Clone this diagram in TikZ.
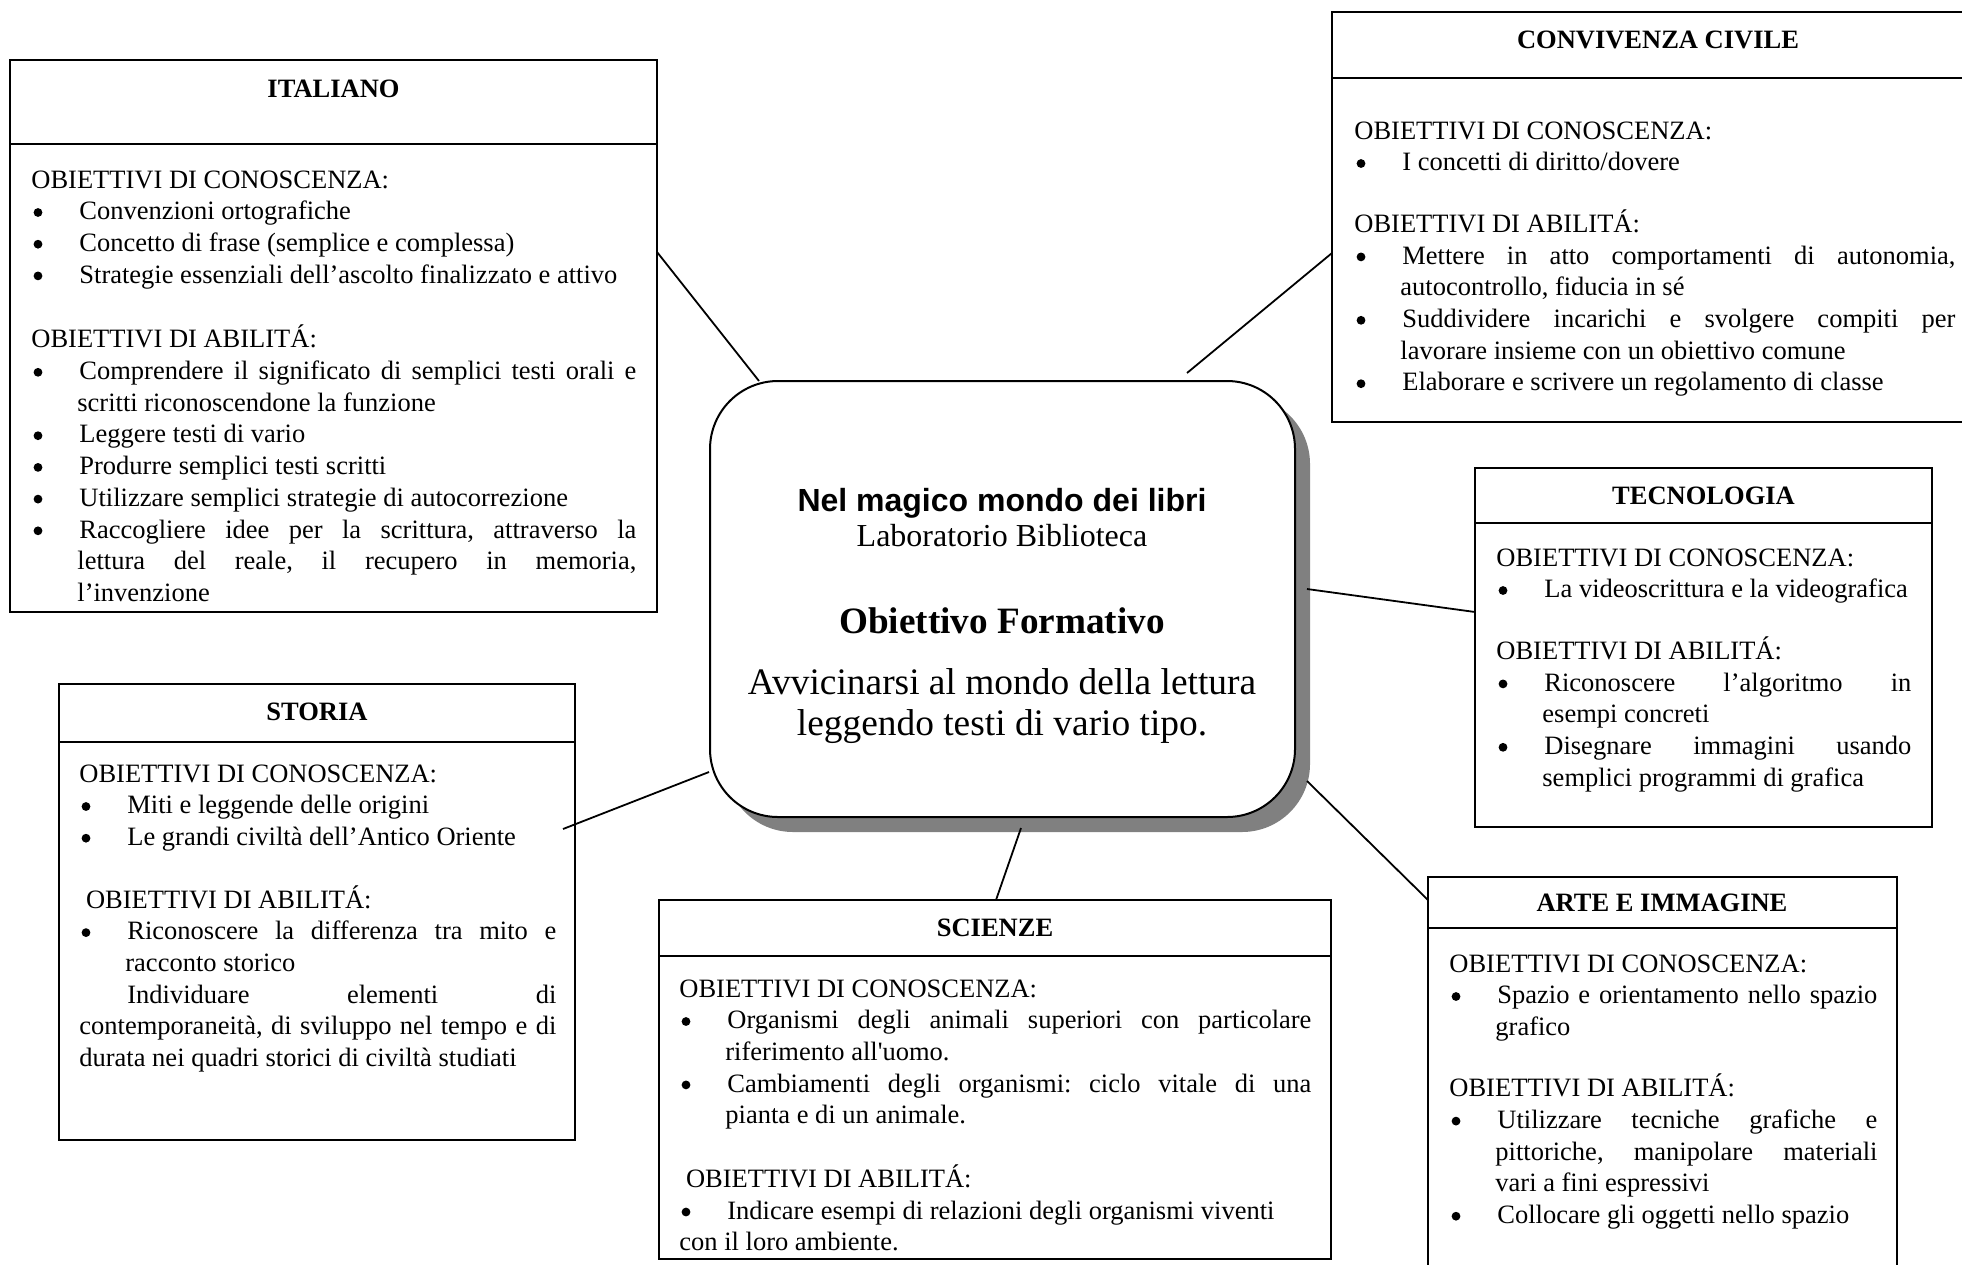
\documentclass[tikz,border=0pt]{standalone}
\usepackage{fontspec}
\setmainfont{Liberation Serif}
\newfontfamily\arialfont{Liberation Sans}
\usetikzlibrary{calc,shadows}
\newlength\itmind
\setlength\itmind{24pt}
\newcommand\bdot{\hbox to 6.6pt{\hss\tikz[baseline=-3.6pt]\fill (0,0) circle (2.2pt);\hss}}
\newcommand\bitem[1]{\par\hangindent=23pt\hangafter=1\noindent\hbox to \itmind{\bdot\hfil}#1}
\newcommand\gapv[1]{\par\vspace{#1}}
\newcommand\bodytext[2]{\begin{minipage}[t]{#1}\fontsize{13.25pt}{15.85pt}\selectfont\frenchspacing\hyphenpenalty=10000\exhyphenpenalty=10000\hbadness=10000\parindent=0pt\noindent #2\end{minipage}}
\begin{document}
\begin{tikzpicture}[x=0.5pt,y=-0.5pt,
  box/.style={draw, line width=1pt, rectangle, inner sep=0pt, outer sep=0pt, fill=white, anchor=north west},
  conn/.style={line width=0.9pt},
  hdr/.style={line width=1pt},
  ttl/.style={anchor=base, inner sep=0pt, font=\bfseries\fontsize{13.25pt}{15.85pt}\selectfont},
  body/.style={anchor=base west, inner sep=0pt}]
\useasboundingbox (0,0) rectangle (1962,1264);
\clip (0,0) rectangle (1962,1264);

% central box
\node[draw, line width=1pt, rectangle, rounded corners=34pt, fill=white,
      minimum width=292.5pt, minimum height=218pt, inner sep=0pt, outer sep=0pt, anchor=north west,
      drop shadow={shadow xshift=7.5pt, shadow yshift=-7.5pt, fill=black!50, opacity=1}] (cen) at (710,381) {};
\node[anchor=base, inner sep=0pt, font=\arialfont\bfseries\fontsize{16pt}{19pt}\selectfont] (c1) at (1002,511) {Nel magico mondo dei libri};
\node[anchor=base, inner sep=0pt, font=\fontsize{16pt}{19pt}\selectfont] (c2) at (1002,546) {Laboratorio Biblioteca};
\node[anchor=base, inner sep=0pt, font=\bfseries\fontsize{18.6pt}{22pt}\selectfont] (c3) at (1002,633) {Obiettivo Formativo};
\node[anchor=base, inner sep=0pt, font=\fontsize{18.7pt}{22pt}\selectfont] (c4) at (1002,694) {Avvicinarsi al mondo della lettura};
\node[anchor=base, inner sep=0pt, font=\fontsize{18.7pt}{22pt}\selectfont] (c5) at (1002,735) {leggendo testi di vario tipo.};

% ITALIANO
\node[box, minimum width=323.5pt, minimum height=276pt] (ital) at (10,60) {};
\draw[hdr] ($(ital.north west)+(0,84)$) -- ($(ital.north east)+(0,84)$);
\node[ttl] (italT) at (333.5,97) {ITALIANO};
\node[body] (italB) at (31,188) {\bodytext{302.5pt}{OBIETTIVI DI CONOSCENZA:
\bitem{Convenzioni ortografiche}
\bitem{Concetto di frase (semplice e complessa)}
\bitem{Strategie essenziali dell’ascolto finalizzato e attivo}
\gapv{16.5pt}
\noindent OBIETTIVI DI ABILITÁ:
\bitem{Comprendere il significato di semplici testi orali e\linebreak scritti riconoscendone la funzione}
\bitem{Leggere testi di vario}
\bitem{Produrre semplici testi scritti}
\bitem{Utilizzare semplici strategie di autocorrezione}
\bitem{Raccogliere idee per la scrittura, attraverso la\linebreak lettura del reale, il recupero in memoria,\linebreak l’invenzione}}};

% CONVIVENZA CIVILE
\node[box, minimum width=326pt, minimum height=205pt] (conv) at (1332,12) {};
\draw[hdr] ($(conv.north west)+(0,66)$) -- ($(conv.north east)+(0,66)$);
\node[ttl] (convT) at (1658,48) {CONVIVENZA CIVILE};
\node[body] (convB) at (1354,139) {\bodytext{300.5pt}{OBIETTIVI DI CONOSCENZA:
\bitem{I concetti di diritto/dovere}
\gapv{15pt}
\noindent OBIETTIVI DI ABILITÁ:
\bitem{Mettere in atto comportamenti di autonomia,\linebreak autocontrollo, fiducia in sé}
\bitem{Suddividere incarichi e svolgere compiti per\linebreak lavorare insieme con un obiettivo comune}
\bitem{Elaborare e scrivere un regolamento di classe}}};

% TECNOLOGIA
\node[box, minimum width=228.5pt, minimum height=179.5pt] (tecn) at (1475,468) {};
\draw[hdr] ($(tecn.north west)+(0,55)$) -- ($(tecn.north east)+(0,55)$);
\node[ttl] (tecnT) at (1703.5,504) {TECNOLOGIA};
\node[body] (tecnB) at (1496,566) {\bodytext{207.5pt}{OBIETTIVI DI CONOSCENZA:
\bitem{La videoscrittura e la videografica}
\gapv{15pt}
\noindent OBIETTIVI DI ABILITÁ:
\bitem{Riconoscere l’algoritmo in\linebreak esempi concreti}
\bitem{Disegnare immagini usando\linebreak semplici programmi di grafica}}};

% STORIA
\node[box, minimum width=258pt, minimum height=228pt] (stor) at (59,684) {};
\draw[hdr] ($(stor.north west)+(0,58)$) -- ($(stor.north east)+(0,58)$);
\node[ttl] (storT) at (317,720) {STORIA};
\node[body] (storB) at (79,782) {\bodytext{238.5pt}{OBIETTIVI DI CONOSCENZA:
\bitem{Miti e leggende delle origini}
\bitem{Le grandi civiltà dell’Antico Oriente}
\gapv{15.5pt}
\noindent\ OBIETTIVI DI ABILITÁ:
\bitem{Riconoscere la differenza tra mito e\linebreak racconto storico}
\par\noindent\hspace*{24pt}Individuare elementi di\linebreak contemporaneità, di sviluppo nel tempo e di\linebreak durata nei quadri storici di civiltà studiati}};

% SCIENZE
\node[box, minimum width=336pt, minimum height=179.5pt] (scie) at (659,900) {};
\draw[hdr] ($(scie.north west)+(0,56)$) -- ($(scie.north east)+(0,56)$);
\node[ttl] (scieT) at (995,936) {SCIENZE};
\node[body] (scieB) at (679,997) {\bodytext{316pt}{OBIETTIVI DI CONOSCENZA:
\bitem{Organismi degli animali superiori con particolare\linebreak riferimento all\textquotesingle uomo.}
\bitem{Cambiamenti degli organismi: ciclo vitale di una\linebreak pianta e di un animale.}
\gapv{16pt}
\noindent\ OBIETTIVI DI ABILITÁ:
\par{\raggedright\noindent\hbox to \itmind{\bdot\hfil}Indicare esempi di relazioni degli organismi viventi\\con il loro ambiente.\par}}};

% ARTE E IMMAGINE
\node[box, minimum width=234.5pt, minimum height=200pt] (arte) at (1428,877) {};
\draw[hdr] ($(arte.north west)+(0,51)$) -- ($(arte.north east)+(0,51)$);
\node[ttl] (arteT) at (1662,911) {ARTE E IMMAGINE};
\node[body] (arteB) at (1449,972) {\bodytext{214pt}{OBIETTIVI DI CONOSCENZA:
\bitem{Spazio e orientamento nello spazio\linebreak grafico}
\gapv{14.75pt}
\noindent OBIETTIVI DI ABILITÁ:
\bitem{Utilizzare tecniche grafiche e\linebreak pittoriche, manipolare materiali\linebreak vari a fini espressivi}
\bitem{Collocare gli oggetti nello spazio}}};

% connectors
\draw[conn] ($(ital.north east)+(0,192)$) -- ($(cen.north west)+(49,0)$);
\draw[conn] ($(conv.north west)+(0,241)$) -- ($(cen.north west)+(477,-8)$);
\draw[conn] ($(cen.north east)+(12,208)$) -- ($(tecn.north west)+(0,144)$);
\draw[conn] ($(cen.north east)+(12,400)$) -- ($(arte.north west)+(0,23)$);
\draw[conn] ($(cen.south west)+(311,11)$) -- ($(scie.north west)+(337,0)$);
\draw[conn] ($(cen.north west)+(-1,391)$) -- ($(stor.north east)+(-12,145)$);
\end{tikzpicture}
\end{document}
